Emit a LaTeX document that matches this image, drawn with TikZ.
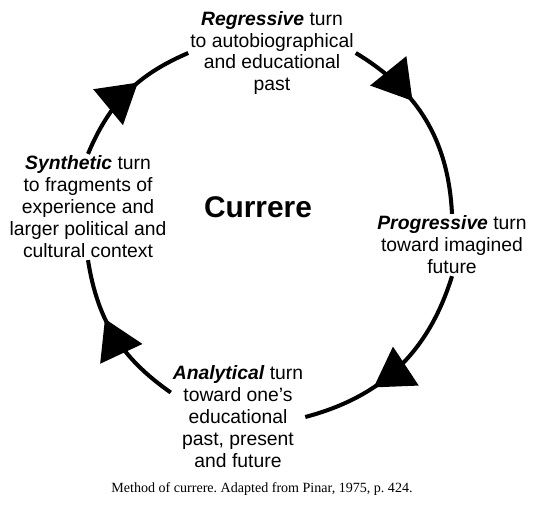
\documentclass[tikz,border=0pt]{standalone}
\usepackage{fontspec}
\setmainfont{Liberation Serif}
\newfontfamily\arial{Liberation Sans}
\usetikzlibrary{arrows.meta,decorations.markings}
\frenchspacing

\begin{document}
\begin{tikzpicture}[x=0.02cm,y=0.02cm,
    stage/.style={align=center,inner sep=1pt,font=\arial\fontsize{11}{12.5}\selectfont},
    turn/.style={line width=2.3pt,postaction={decorate},
      decoration={markings,mark=at position #1 with {\arrow{Triangle[length=22pt,width=26pt]}}}},
    turn/.default=0.6]
        \useasboundingbox (0,0) rectangle (546,508);                              %
        \node[stage] (reg)  at (272,455) {\textbf{\textit{Regressive}} turn\\to autobiographical\\and educational\\past};
        \node[stage] (syn)  at (88,301)  {\textbf{\textit{Synthetic}} turn\\to fragments of\\experience and\\larger political and\\cultural context};
        \node[font=\arial\bfseries\fontsize{17}{20}\selectfont] (cur) at (258,301) {Currere};
        \node[stage] (prog) at (452,263) {\textbf{\textit{Progressive}} turn\\toward imagined\\future};
        \node[stage] (ana)  at (238,91)  {\textbf{\textit{Analytical}} turn\\toward one’s\\educational\\past, present\\and future};
        \node[font=\fontsize{8}{10}\selectfont] (cap) at (262,19) {Method of currere. Adapted from Pinar, 1975, p. 424.};
        \draw[turn=0.6]  (syn.north) to[bend left=22] (reg.west);                 %up
        \draw[turn=0.38] (reg.east)  to[bend left=28] (prog.north);               %right
        \draw[turn=0.65] (prog.south) to[bend left=29] (ana.east);                %down
        \draw[turn=0.62] (ana.160)   to[bend left=23] (syn.south);                %left
\end{tikzpicture}
\end{document}
